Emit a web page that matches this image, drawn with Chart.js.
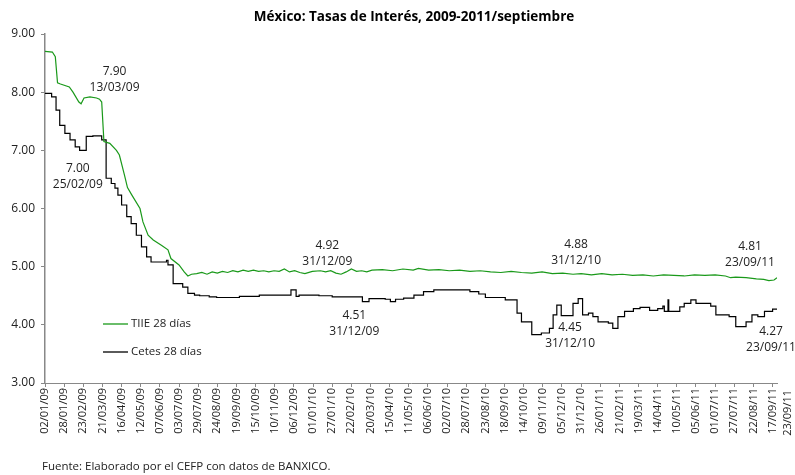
<!DOCTYPE html>
<html>
<head>
<meta charset="utf-8">
<script src="https://cdn.jsdelivr.net/npm/chart.js@4.4.0/dist/chart.umd.min.js"></script>
<style>
  body { margin: 0; background: #fff; }
</style>
</head>
<body>
<canvas id="tasasChart" width="795" height="475"></canvas>
<script>
// TIIE 28 dias (fecha, tasa)
var tiieFechas = ['02/01/09','12/01/09','16/01/09','19/01/09','23/01/09','04/02/09','09/02/09','17/02/09','20/02/09','24/02/09',
  '04/03/09','13/03/09','17/03/09','20/03/09','23/03/09','31/03/09','09/04/09','13/04/09','20/04/09','24/04/09',
  '30/04/09','11/05/09','15/05/09','22/05/09','29/05/09','09/06/09','18/06/09','22/06/09','03/07/09','10/07/09',
  '15/07/09','20/07/09','27/07/09','03/08/09','10/08/09','17/08/09','24/08/09','31/08/09','07/09/09','14/09/09',
  '21/09/09','28/09/09','05/10/09','12/10/09','19/10/09','26/10/09','02/11/09','09/11/09','16/11/09','23/11/09',
  '30/11/09','07/12/09','14/12/09','21/12/09','31/12/09','11/01/10','18/01/10','25/01/10','01/02/10','08/02/10',
  '15/02/10','22/02/10','01/03/10','08/03/10','15/03/10','22/03/10','05/04/10','19/04/10','03/05/10','17/05/10',
  '24/05/10','07/06/10','21/06/10','05/07/10','19/07/10','02/08/10','16/08/10','30/08/10','13/09/10','27/09/10',
  '11/10/10','25/10/10','08/11/10','22/11/10','06/12/10','20/12/10','31/12/10','14/01/11','28/01/11','11/02/11',
  '25/02/11','11/03/11','25/03/11','08/04/11','22/04/11','06/05/11','20/05/11','03/06/11','17/06/11','01/07/11',
  '15/07/11','22/07/11','29/07/11','12/08/11','26/08/11','05/09/11','12/09/11','19/09/11','23/09/11'];
var tiieValores = [8.70,8.69,8.61,8.16,8.14,8.09,8.00,7.83,7.80,7.90,
  7.92,7.90,7.88,7.83,7.15,7.12,7.00,6.92,6.57,6.36,
  6.23,6.00,5.77,5.54,5.46,5.37,5.29,5.14,5.03,4.91,
  4.84,4.87,4.88,4.90,4.87,4.91,4.89,4.92,4.90,4.93,
  4.91,4.94,4.92,4.94,4.92,4.93,4.91,4.93,4.92,4.96,
  4.91,4.93,4.90,4.88,4.92,4.93,4.91,4.93,4.89,4.87,
  4.91,4.96,4.92,4.93,4.91,4.94,4.95,4.93,4.96,4.94,
  4.97,4.94,4.95,4.93,4.94,4.92,4.93,4.91,4.90,4.92,
  4.90,4.89,4.91,4.88,4.89,4.87,4.88,4.86,4.88,4.86,
  4.87,4.85,4.86,4.84,4.86,4.85,4.84,4.86,4.85,4.86,
  4.84,4.81,4.82,4.81,4.79,4.78,4.76,4.77,4.81];

// Cetes 28 dias (fecha de cambio, tasa)
var cetesFechas = ['02/01/09','11/01/09','17/01/09','22/01/09','29/01/09','05/02/09','12/02/09','18/02/09','27/02/09','08/03/09',
  '20/03/09','26/03/09','02/04/09','07/04/09','11/04/09','16/04/09','23/04/09','29/04/09','06/05/09','13/05/09',
  '20/05/09','26/05/09','16/06/09','18/06/09','25/06/09','08/07/09','15/07/09','24/07/09','31/07/09','13/08/09',
  '23/08/09','23/09/09','20/10/09','02/12/09','09/12/09','13/12/09','09/01/10','27/01/10','09/03/10','18/03/10',
  '09/04/10','16/04/10','23/04/10','04/05/10','18/05/10','31/05/10','14/06/10','02/08/10','14/08/10','23/08/10',
  '19/09/10','05/10/10','11/10/10','25/10/10','07/11/10','18/11/10','23/11/10','28/11/10','04/12/10','20/12/10',
  '27/12/10','02/01/11','10/01/11','16/01/11','23/01/11','06/02/11','12/02/11','19/02/11','28/02/11','12/03/11',
  '21/03/11','03/04/11','14/04/11','21/04/11','23/04/11','28/04/11','29/04/11','14/05/11','20/05/11','29/05/11',
  '05/06/11','25/06/11','02/07/11','20/07/11','29/07/11','12/08/11','20/08/11','28/08/11','06/09/11','17/09/11',
  '23/09/11'];
var cetesValores = [7.98,7.92,7.69,7.43,7.29,7.18,7.06,7.00,7.24,7.25,
  7.18,6.52,6.43,6.35,6.23,6.06,5.86,5.74,5.54,5.34,
  5.17,5.08,5.11,5.03,4.71,4.65,4.54,4.51,4.50,4.48,
  4.47,4.49,4.51,4.60,4.49,4.51,4.50,4.48,4.40,4.45,
  4.44,4.40,4.44,4.46,4.51,4.57,4.60,4.57,4.53,4.47,
  4.43,4.20,4.05,3.83,3.86,3.94,4.17,4.34,4.16,4.37,
  4.45,4.17,4.20,4.14,4.05,4.03,3.94,4.14,4.23,4.28,
  4.30,4.25,4.28,4.32,4.23,4.43,4.23,4.31,4.37,4.43,
  4.37,4.32,4.17,4.14,3.97,4.05,4.17,4.14,4.23,4.27,
  4.27];

// etiquetas del eje x
var ejeFechas = ['02/01/09','28/01/09','23/02/09','21/03/09','16/04/09','12/05/09','07/06/09','03/07/09','29/07/09','24/08/09',
  '19/09/09','15/10/09','10/11/09','06/12/09','01/01/10','27/01/10','22/02/10','20/03/10','15/04/10','11/05/10',
  '06/06/10','02/07/10','28/07/10','23/08/10','18/09/10','14/10/10','09/11/10','05/12/10','31/12/10','26/01/11',
  '21/02/11','19/03/11','14/04/11','10/05/11','05/06/11','01/07/11','27/07/11','22/08/11','17/09/11'];
var ultimaFecha = '23/09/11';

// notas sobre las series
var notaFechas = ['13/03/09','25/02/09','31/12/09','31/12/09','31/12/10','31/12/10','23/09/11','23/09/11'];
var notaValores = [7.90, 7.00, 4.92, 4.51, 4.88, 4.45, 4.81, 4.27];
var notaOffsets = [[18,-26],[-7,18],[15,-26],[42,20],[-5,-29],[-11,29],[-27,-31],[-6,22]];

var titulo = 'México: Tasas de Interés, 2009-2011/septiembre';
var fuente = "'Open Sans', sans-serif";

function diaDe(s) {
    var p = s.split('/');
    return Math.round((Date.UTC(2000 + parseInt(p[2], 10), parseInt(p[1], 10) - 1, parseInt(p[0], 10)) - Date.UTC(2009, 0, 2)) / 86400000);
}

var etiquetaDe = {};
ejeFechas.forEach(function (f) { etiquetaDe[diaDe(f)] = f; });

var puntos = function (fechas, valores) {
    return fechas.map(function (f, i) { return { x: diaDe(f), y: valores[i] }; });
};

var notasPlugin = {
    id: 'notas',
    afterDatasetsDraw: function (chart) {
        var ctx = chart.ctx, sx = chart.scales.x, sy = chart.scales.y, area = chart.chartArea;
        ctx.save();
        ctx.fillStyle = '#222';
        ctx.textAlign = 'center';
        ctx.textBaseline = 'middle';

        // titulo centrado sobre el area
        ctx.fillStyle = '#000';
        ctx.font = 'bold 13.5px ' + fuente;
        ctx.fillText(titulo, (area.left + area.right) / 2 + 3, 17);

        ctx.fillStyle = '#222';
        ctx.font = '12px ' + fuente;
        for (var i = 0; i < notaFechas.length; i++) {
            var px = sx.getPixelForValue(diaDe(notaFechas[i])) + notaOffsets[i][0];
            var py = sy.getPixelForValue(notaValores[i]) + notaOffsets[i][1];
            ctx.fillText(notaValores[i].toFixed(2), px, py);
            ctx.fillText(notaFechas[i], px, py + 16);
        }

        // leyenda dentro del area
        ctx.textAlign = 'left';
        ctx.font = '11.5px ' + fuente;
        chart.data.datasets.forEach(function (ds, k) {
            var ly = 324 + k * 28;
            ctx.strokeStyle = ds.borderColor;
            ctx.lineWidth = 1.3;
            ctx.beginPath();
            ctx.moveTo(area.left + 58, ly);
            ctx.lineTo(area.left + 83, ly);
            ctx.stroke();
            ctx.fillStyle = '#222';
            ctx.fillText(ds.label, area.left + 86, ly);
        });

        // ultima fecha del eje
        ctx.save();
        ctx.font = '11px ' + fuente;
        ctx.translate(sx.getPixelForValue(diaDe(ultimaFecha)) + 11, area.bottom + 7);
        ctx.rotate(-Math.PI / 2);
        ctx.textAlign = 'right';
        ctx.fillText(ultimaFecha, 0, 0);
        ctx.restore();

        ctx.font = '11.5px ' + fuente;
        ctx.textAlign = 'left';
        ctx.fillText('Fuente: Elaborado por el CEFP con datos de BANXICO.', 42, 467);
        ctx.restore();
    }
};

var ctx = document.getElementById('tasasChart').getContext('2d');
var tasasChart = new Chart(ctx, {
    type: 'line',
    data: {
        datasets: [
            {
                label: 'TIIE 28 días',
                data: puntos(tiieFechas, tiieValores),
                borderColor: '#1a991a',
                borderWidth: 1.2,
                pointRadius: 0,
                tension: 0
            },
            {
                label: 'Cetes 28 días',
                data: puntos(cetesFechas, cetesValores),
                borderColor: '#000000',
                borderWidth: 1.2,
                pointRadius: 0,
                stepped: 'before'
            }
        ]
    },
    options: {
        responsive: false,
        animation: false,
        layout: { padding: { left: 0, right: 18, top: 34, bottom: 0 } },
        plugins: {
            legend: { display: false },
            tooltip: { enabled: false },
            title: { display: false }
        },
        scales: {
            x: {
                type: 'linear',
                min: 0,
                max: diaDe(ultimaFecha),
                afterBuildTicks: function (scale) {
                    scale.ticks = ejeFechas.map(function (f) { return { value: diaDe(f) }; });
                },
                afterFit: function (scale) { scale.height = 92; },
                grid: { drawOnChartArea: false, drawTicks: true, tickLength: 4, color: '#888' },
                border: { color: '#888', width: 1 },
                ticks: {
                    autoSkip: false,
                    minRotation: 90,
                    maxRotation: 90,
                    padding: 1,
                    color: '#222',
                    font: { family: fuente, size: 11 },
                    callback: function (v) { return etiquetaDe[v] || ''; }
                }
            },
            y: {
                min: 3,
                max: 9,
                afterFit: function (scale) { scale.width = 45; },
                grid: { drawOnChartArea: false, drawTicks: true, tickLength: 4, color: '#888' },
                border: { color: '#888', width: 1.5 },
                ticks: {
                    stepSize: 1,
                    padding: 6,
                    color: '#222',
                    font: { family: fuente, size: 12 },
                    callback: function (v) { return v.toFixed(2); }
                }
            }
        }
    },
    plugins: [notasPlugin]
});
</script>
</body>
</html>
